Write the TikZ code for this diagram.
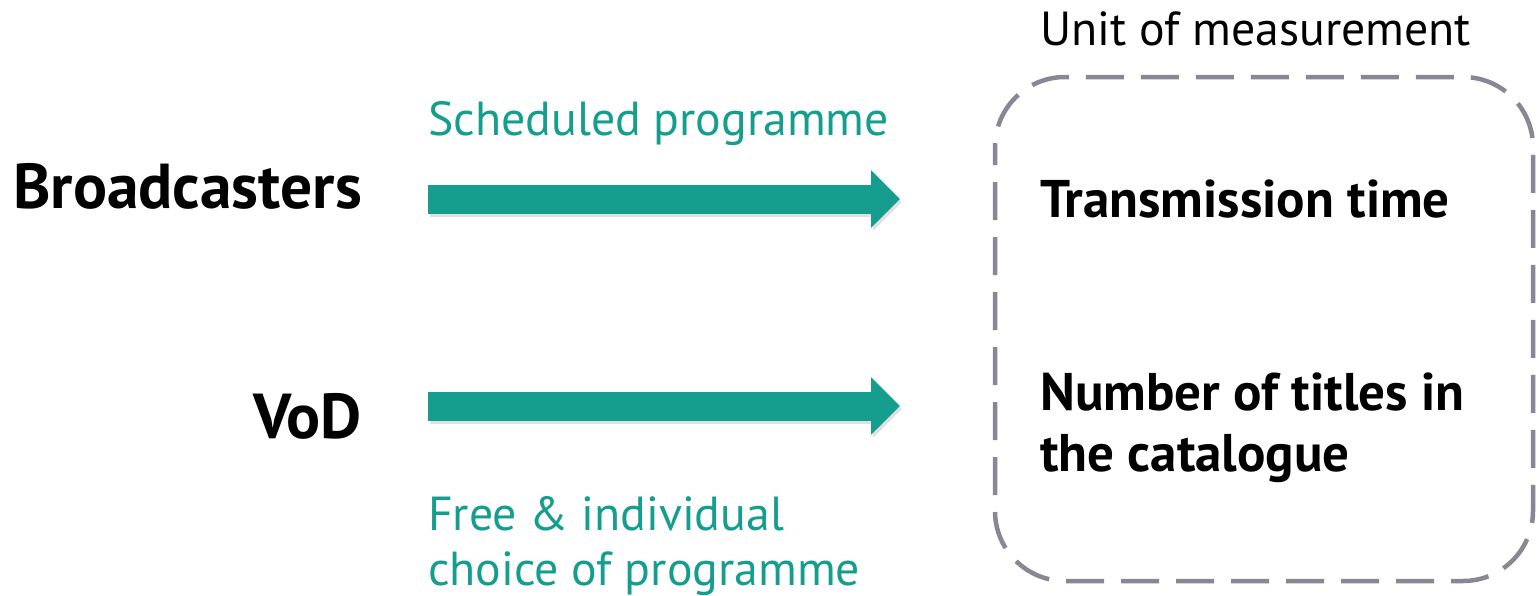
\documentclass[tikz,border=0pt]{standalone}
\usepackage{fontspec}
\setmainfont{PT Sans}
\usetikzlibrary{arrows.meta}
\definecolor{teal1}{HTML}{159E8E}
\definecolor{boxgray}{HTML}{878893}
\tikzset{
  lbl/.style={inner sep=0pt, font=\fontsize{47.8}{55}\selectfont},
  big/.style={inner sep=0pt, font=\bfseries\fontsize{63.5}{74}\selectfont},
  unit/.style={inner sep=0pt, font=\bfseries\fontsize{53}{62}\selectfont},
  fatarrow/.style={draw=teal1, line width=29pt, -{Triangle[length=29pt,width=56pt]}},
  shadowarrow/.style={draw=black, opacity=0.12, line width=29pt, -{Triangle[length=29pt,width=56pt]}},
}
\begin{document}
\begin{tikzpicture}[x=1pt,y=-1pt]
\useasboundingbox (0,0) rectangle (1537,595);
% left labels
\node[big, anchor=base east] (bc) at (362,208) {Broadcasters};
\node[big, anchor=base east] (vod) at (362,438) {VoD};
% arrow coordinates
\coordinate (a1s) at (428,199);
\coordinate (a1e) at (900,199);
\coordinate (a2s) at (428,406);
\coordinate (a2e) at (900,406);
\coordinate (a1ss) at (430,202);
\coordinate (a1es) at (902,202);
\coordinate (a2ss) at (430,409);
\coordinate (a2es) at (902,409);
\draw[shadowarrow] (a1ss) -- (a1es);
\draw[shadowarrow] (a2ss) -- (a2es);
\draw[fatarrow] (a1s) -- (a1e);
\draw[fatarrow] (a2s) -- (a2e);
% arrow labels
\node[lbl, text=teal1, anchor=base west] (sched) at (428,135) {Scheduled programme};
\node[lbl, text=teal1, anchor=base west] (free1) at (428,530) {Free \& individual};
\node[lbl, text=teal1, anchor=base west] (free2) at (428,585) {choice of programme};
% dashed box
\draw[boxgray, line width=4.5pt, dash pattern=on 38pt off 17pt, dash phase=20pt, rounded corners=70pt] (995,77) rectangle (1533,581);
\node[lbl, anchor=base west] (unit) at (1040,45) {Unit of measurement};
\node[unit, anchor=base west] (tt) at (1040,217) {Transmission time};
\node[unit, anchor=base west] (nt1) at (1040,410) {Number of titles in};
\node[unit, anchor=base west] (nt2) at (1040,471) {the catalogue};
\end{tikzpicture}
\end{document}
